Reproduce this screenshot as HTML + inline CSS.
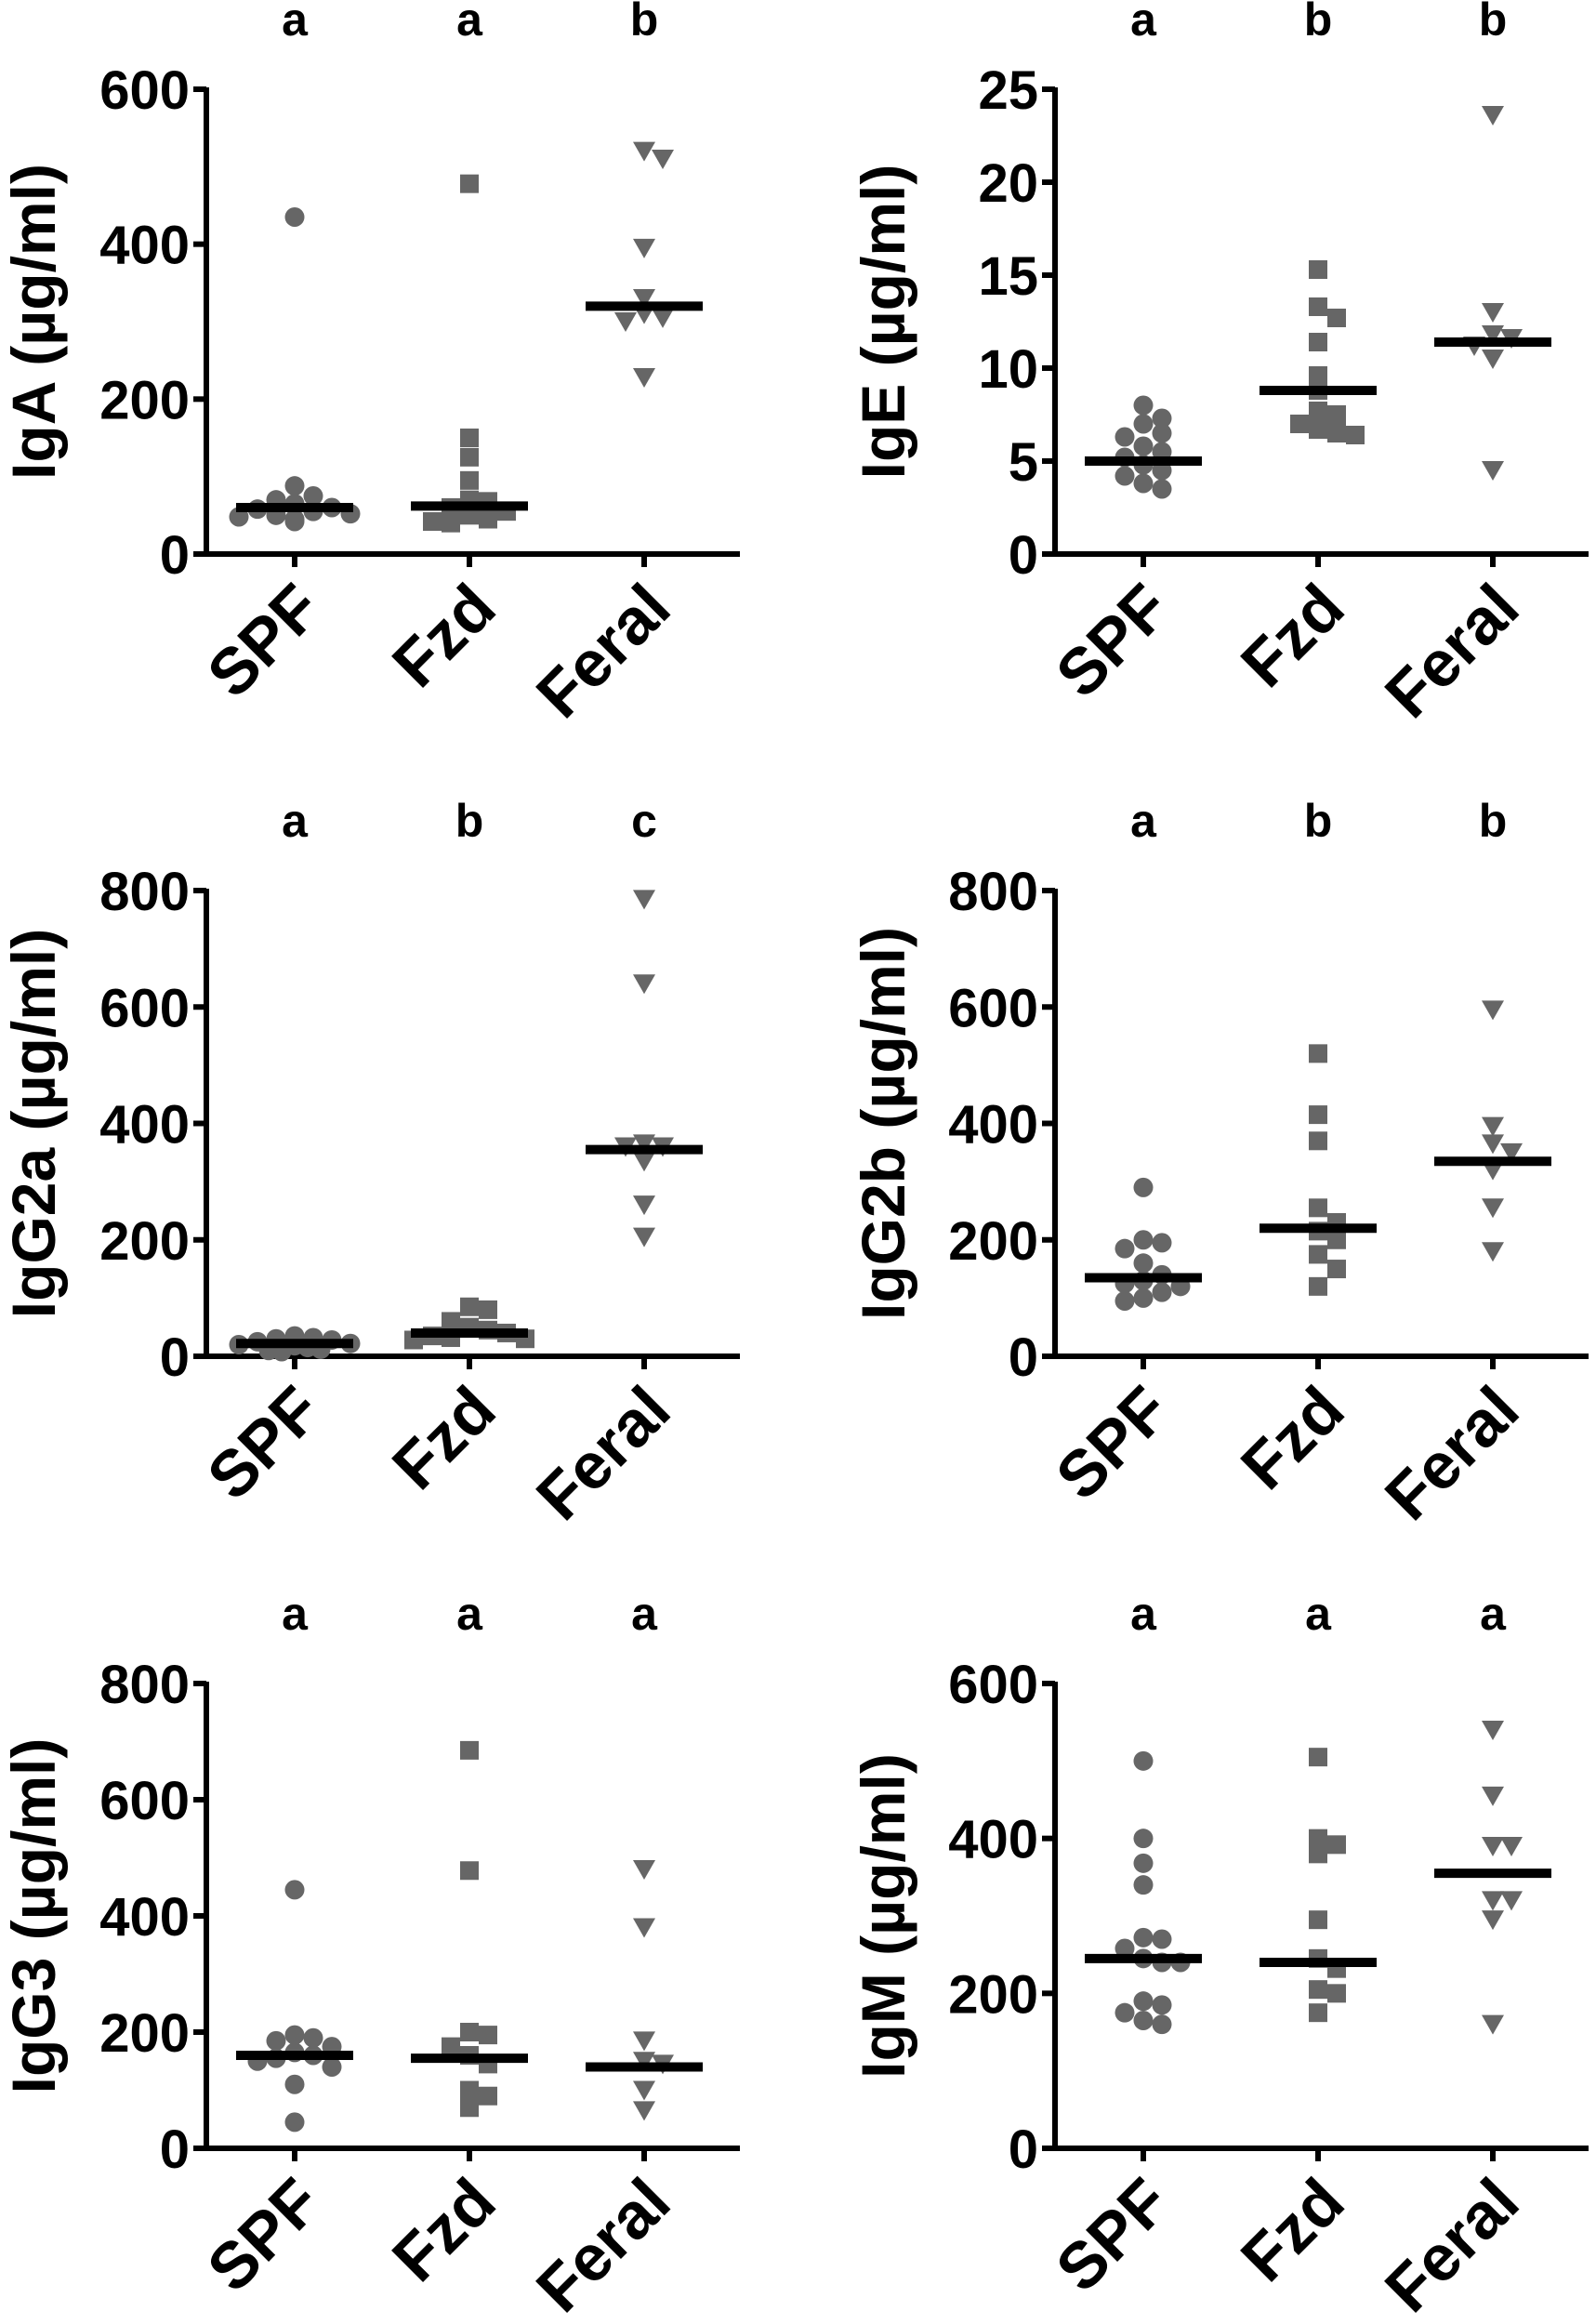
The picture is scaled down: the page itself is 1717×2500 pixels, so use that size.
<!DOCTYPE html>
<html><head><meta charset="utf-8"><style>
html,body{margin:0;padding:0;background:#fff;}
svg{display:block;font-family:"Liberation Sans",Arial,sans-serif;font-weight:bold;}
</style></head><body>
<svg id="fig" width="1717" height="2500" viewBox="0 0 1717 2500" xmlns="http://www.w3.org/2000/svg"></svg>
<script>
const categories = ["SPF","Fzd","Feral"];
const panelNames = ["IgA","IgE","IgG2a","IgG2b","IgG3","IgM"];
const yMaxes = [600,25,800,800,800,600];
const yTickLabels = [[0,200,400,600],[0,5,10,15,20,25],[0,200,400,600,800],[0,200,400,600,800],[0,200,400,600,800],[0,200,400,600]];
const sigLetters = [["a","a","b"],["a","b","b"],["a","b","c"],["a","b","b"],["a","a","a"],["a","a","a"]];
const igaSPF = [435,88,75,70,65,60,58,55,52,50,48,45,42];
const igaFzd = [478,150,125,95,70,68,60,55,50,45,42,40];
const igaFeral = [520,510,395,330,310,305,300,228];
const igaMedians = [60,62,320];
const igeSPF = [8,7.3,7,6.5,6.3,5.8,5.5,5.2,4.8,4.5,4.2,3.8,3.5];
const igeFzd = [15.3,13.3,12.7,11.4,9.6,8.8,7.7,7.5,7.0,6.7,6.5,6.4];
const igeFeral = [23.6,13,11.8,11.6,11.2,10.5,4.5];
const igeMedians = [5,8.8,11.4];
const igg2aSPF = [35,32,30,28,25,22,20,18,15,12,10,8];
const igg2aFzd = [85,80,60,50,45,40,35,32,30,28];
const igg2aFeral = [785,640,365,360,360,335,260,205];
const igg2aMedians = [22,40,355];
const igg2bSPF = [290,200,195,185,160,140,130,125,120,110,100,95];
const igg2bFzd = [520,415,370,255,230,215,200,175,150,120];
const igg2bFeral = [595,395,365,350,320,255,180];
const igg2bMedians = [135,220,335];
const igg3SPF = [445,195,190,185,175,165,160,155,150,140,110,45];
const igg3Fzd = [685,478,200,195,175,160,145,100,90,70];
const igg3Feral = [480,380,185,150,145,100,65];
const igg3Medians = [160,155,140];
const igmSPF = [500,400,368,340,272,270,258,245,240,240,190,185,175,165,160];
const igmFzd = [505,400,392,380,295,245,232,205,200,175];
const igmFeral = [540,455,390,390,320,320,295,160];
const igmMedians = [245,240,355];
const panelData = [[igaSPF,igaFzd,igaFeral],[igeSPF,igeFzd,igeFeral],[igg2aSPF,igg2aFzd,igg2aFeral],[igg2bSPF,igg2bFzd,igg2bFeral],[igg3SPF,igg3Fzd,igg3Feral],[igmSPF,igmFzd,igmFeral]];
const panelMedians = [igaMedians,igeMedians,igg2aMedians,igg2bMedians,igg3Medians,igmMedians];

const NS = "http://www.w3.org/2000/svg";
const svg = document.getElementById("fig");
function mk(tag, attrs, parent){const e=document.createElementNS(NS,tag);for(const k in attrs)e.setAttribute(k,attrs[k]);(parent||svg).appendChild(e);return e;}

const colAxisX = [222,1135];
const rowTop = [96,958,1811];
const rowZero = [596,1459,2311];
const catOffsets = [95,283,471];
const axisLen = 574;

for(let p=0;p<6;p++){
  const col=p%2,row=Math.floor(p/2);
  const ax=colAxisX[col],top=rowTop[row],zero=rowZero[row],ymax=yMaxes[p];
  const yS=v=>zero-(v/ymax)*(zero-top);
  const xS=i=>ax+catOffsets[i];
  const g=mk("g",{});
  
  
  const ya=mk("line",{x1:ax,y1:top-2,x2:ax,y2:zero+2.5,stroke:"#000","stroke-width":6},g);
  
  
  const xa=mk("line",{x1:ax-14,y1:zero,x2:ax+axisLen,y2:zero,stroke:"#000","stroke-width":6},g);
  
  
  yTickLabels[p].forEach(t=>{
    const y=yS(t);
    mk("line",{x1:ax-14,y1:y,x2:ax,y2:y,stroke:"#000","stroke-width":6},g);
    const tx=mk("text",{x:ax-18,y:y+21,"text-anchor":"end","font-size":58},g);
    tx.textContent=t;
    
    
  });
  const tcx = col===0?36:950;
  const cy=(top+zero)/2;
  const ty=mk("text",{x:tcx+23,y:cy,"text-anchor":"middle","font-size":66,transform:`rotate(-90 ${tcx+23} ${cy})`},g);
  ty.textContent=panelNames[p]+" (µg/ml)";
  
  
  categories.forEach((c,i)=>{
    const cx=xS(i);
    mk("line",{x1:cx,y1:zero,x2:cx,y2:zero+14,stroke:"#000","stroke-width":6},g);
    const lx=cx+32,ly=zero+62;
    const cl=mk("text",{x:lx,y:ly,"text-anchor":"end","font-size":70,transform:`rotate(-45 ${lx} ${ly})`},g);
    cl.textContent=c;
    
    
    const sl=mk("text",{x:cx,y:rowTop[row]-58,"text-anchor":"middle","font-size":50},g);
    sl.textContent=sigLetters[p][i];
    
    
    const vals=panelData[p][i];
    const placed=[];
    vals.forEach(v=>{
      const y=yS(v);
      let off=null;
      const cands=[0];for(let s=1;s<=3;s++){cands.push(s*20,-s*20);}
      for(const o of cands){ if(placed.every(q=>Math.hypot(q[0]-o,q[1]-y)>=16)){off=o;break;} }
      if(off===null) off=((placed.length%5)-2)*14;
      placed.push([off,y]);
      const px=cx+off;
      let m;
      if(i===0) m=mk("circle",{cx:px,cy:y,r:10.5,fill:"#666"},g);
      else if(i===1) m=mk("rect",{x:px-10,y:y-10,width:20,height:20,fill:"#666"},g);
      else m=mk("polygon",{points:`${px-12},${y-10} ${px+12},${y-10} ${px},${y+11}`,fill:"#666"},g);
      
      
    });
    const my=yS(panelMedians[p][i]);
    const ml=mk("line",{x1:cx-63,y1:my,x2:cx+63,y2:my,stroke:"#000","stroke-width":10},g);
    
    
  });
}
</script>
</body></html>
